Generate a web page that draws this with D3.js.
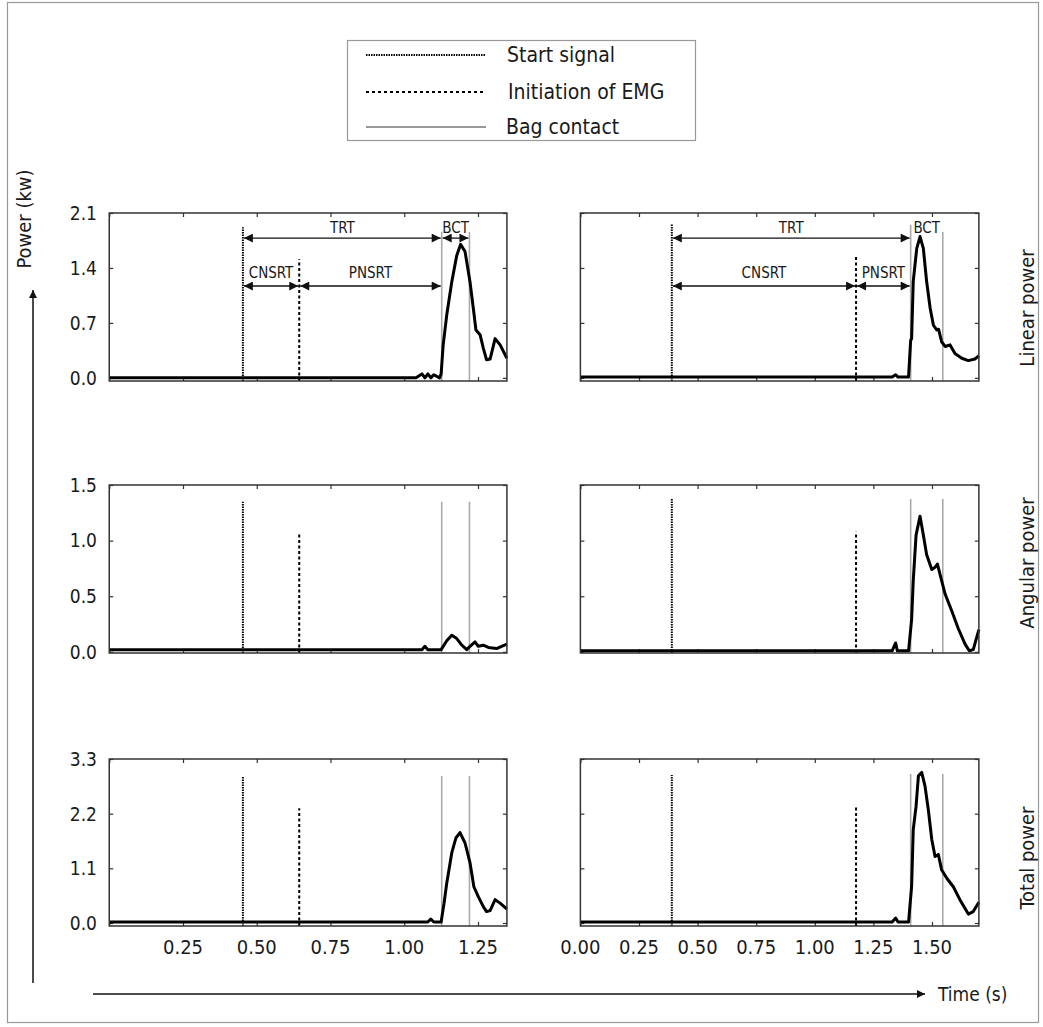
<!DOCTYPE html>
<html>
<head>
<meta charset="utf-8">
<script src="https://cdn.jsdelivr.net/npm/d3@7"></script>
<style>
  body { margin: 0; background: #fff; }
  svg text { font-family: "Liberation Sans Narrow", "DejaVu Sans Condensed", "DejaVu Sans", sans-serif; font-stretch: condensed; fill: #1a1a1a; }
</style>
</head>
<body>
<svg id="chart"></svg>
<script>
// ---- data ----
const rowLabels = ["Linear power", "Angular power", "Total power"];
const legendLabels = ["Start signal", "Initiation of EMG", "Bag contact"];

const xTickValues = [0, 0.25, 0.5, 0.75, 1.0, 1.25, 1.5];
const yTicksLinear = [0, 0.7, 1.4, 2.1];
const yTicksAngular = [0, 0.5, 1.0, 1.5];
const yTicksTotal = [0, 1.1, 2.2, 3.3];

// event times: start signal, initiation of EMG, bag contact (start, end)
const eventsLeft = [0.453, 0.644, 1.127, 1.221];
const eventsRight = [0.39, 1.176, 1.409, 1.546];

// heights (kW) the event lines reach in each panel
const eventTopLinearLeft = [1.92, 1.51, 1.86, 1.86];
const eventTopLinearRight = [1.96, 1.54, 1.95, 1.86];
const eventTopAngularLeft = [1.35, 1.07, 1.35, 1.35];
const eventTopAngularRight = [1.375, 1.08, 1.375, 1.375];
const eventTopTotalLeft = [2.96, 2.31, 2.96, 2.96];
const eventTopTotalRight = [2.98, 2.33, 3.0, 3.0];

// power curves
const linearLeftT = [0, 1.04, 1.06, 1.07, 1.08, 1.09, 1.10, 1.12, 1.125, 1.132, 1.144, 1.161, 1.178, 1.191, 1.206, 1.223, 1.234, 1.243, 1.257, 1.268, 1.279, 1.291, 1.308, 1.325, 1.348];
const linearLeftP = [0, 0, 0.05, 0, 0.05, 0, 0.04, 0, 0.05, 0.42, 0.80, 1.22, 1.56, 1.70, 1.61, 1.22, 0.89, 0.61, 0.55, 0.38, 0.23, 0.24, 0.50, 0.42, 0.25];

const linearRightT = [0, 1.33, 1.345, 1.355, 1.365, 1.40, 1.409, 1.413, 1.420, 1.435, 1.449, 1.463, 1.477, 1.492, 1.506, 1.520, 1.528, 1.541, 1.556, 1.577, 1.598, 1.627, 1.655, 1.683, 1.70];
const linearRightP = [0.01, 0.01, 0.04, 0.01, 0.01, 0.01, 0.48, 0.50, 1.23, 1.65, 1.80, 1.65, 1.23, 0.89, 0.67, 0.61, 0.62, 0.46, 0.40, 0.42, 0.31, 0.25, 0.22, 0.24, 0.28];

const angularLeftT = [0, 1.06, 1.07, 1.08, 1.125, 1.144, 1.161, 1.178, 1.195, 1.212, 1.223, 1.240, 1.251, 1.268, 1.285, 1.313, 1.330, 1.348];
const angularLeftP = [0.02, 0.02, 0.05, 0.02, 0.02, 0.10, 0.15, 0.12, 0.06, 0.02, 0.05, 0.09, 0.05, 0.06, 0.04, 0.03, 0.05, 0.07];

const angularRightT = [0, 1.33, 1.345, 1.352, 1.36, 1.40, 1.413, 1.420, 1.432, 1.449, 1.463, 1.477, 1.499, 1.513, 1.523, 1.534, 1.556, 1.584, 1.612, 1.641, 1.659, 1.676, 1.70];
const angularRightP = [0.01, 0.01, 0.08, 0.01, 0.01, 0.01, 0.29, 0.64, 1.05, 1.22, 1.05, 0.875, 0.74, 0.76, 0.79, 0.70, 0.52, 0.37, 0.21, 0.07, 0.01, 0.02, 0.20];

const totalLeftT = [0, 1.08, 1.09, 1.10, 1.125, 1.135, 1.144, 1.161, 1.175, 1.189, 1.206, 1.223, 1.236, 1.251, 1.268, 1.279, 1.291, 1.308, 1.325, 1.348];
const totalLeftP = [0.02, 0.02, 0.08, 0.02, 0.02, 0.40, 0.80, 1.41, 1.71, 1.82, 1.61, 1.21, 0.73, 0.53, 0.33, 0.23, 0.25, 0.47, 0.40, 0.28];

const totalRightT = [0, 1.33, 1.345, 1.355, 1.365, 1.40, 1.413, 1.420, 1.432, 1.442, 1.456, 1.470, 1.484, 1.499, 1.513, 1.527, 1.541, 1.563, 1.591, 1.619, 1.655, 1.676, 1.70];
const totalRightP = [0.02, 0.02, 0.10, 0.02, 0.02, 0.02, 0.73, 1.88, 2.35, 2.96, 3.03, 2.76, 2.29, 1.68, 1.34, 1.38, 1.07, 0.90, 0.73, 0.47, 0.18, 0.23, 0.42];

// reaction time intervals drawn in the linear power panels
const intervalsLeft = [
  { label: "TRT", from: 0.453, to: 1.127, level: 1.78 },
  { label: "BCT", from: 1.127, to: 1.221, level: 1.78 },
  { label: "CNSRT", from: 0.453, to: 0.644, level: 1.17 },
  { label: "PNSRT", from: 0.644, to: 1.127, level: 1.17 },
];
const intervalsRight = [
  { label: "TRT", from: 0.39, to: 1.409, level: 1.78 },
  { label: "BCT", from: 1.409, to: 1.546, level: 1.78, noArrow: true },
  { label: "CNSRT", from: 0.39, to: 1.176, level: 1.17 },
  { label: "PNSRT", from: 1.176, to: 1.409, level: 1.17 },
];

// ---- layout ----
const width = 1043;
const height = 1027;

const svg = d3.select("#chart").attr("width", width).attr("height", height);

const defs = svg.append("defs");
defs.append("marker")
  .attr("id", "head")
  .attr("viewBox", "0 0 10 10")
  .attr("refX", 10).attr("refY", 5)
  .attr("markerWidth", 14).attr("markerHeight", 9)
  .attr("markerUnits", "userSpaceOnUse")
  .attr("orient", "auto-start-reverse")
  .append("path").attr("d", "M0,0L10,5L0,10z").attr("fill", "#111");
defs.append("marker")
  .attr("id", "axhead")
  .attr("viewBox", "0 0 10 10")
  .attr("refX", 10).attr("refY", 5)
  .attr("markerWidth", 11).attr("markerHeight", 8)
  .attr("markerUnits", "userSpaceOnUse")
  .attr("orient", "auto")
  .append("path").attr("d", "M0,0L10,5L0,10z").attr("fill", "#111");

// outer frame
svg.append("rect")
  .attr("x", 7.5).attr("y", 2.5)
  .attr("width", 1031).attr("height", 1020)
  .attr("fill", "none").attr("stroke", "#999").attr("stroke-width", 1.2);

const columns = [
  { x0: 109.25, tmax: 1.348, events: eventsLeft },
  { x0: 580.4, tmax: 1.70, events: eventsRight },
];
const colScale = [295, 234.4]; // px per second

const rows = [
  { top: 213, bottom: 381, domain: [-0.04, 2.1], ticks: yTicksLinear, labelY: 308 },
  { top: 485, bottom: 653, domain: [-0.01, 1.5], ticks: yTicksAngular, labelY: 563 },
  { top: 759, bottom: 926, domain: [-0.06, 3.3], ticks: yTicksTotal, labelY: 858 },
];

const panels = [
  { row: 0, col: 0, t: linearLeftT, p: linearLeftP, tops: eventTopLinearLeft, intervals: intervalsLeft },
  { row: 0, col: 1, t: linearRightT, p: linearRightP, tops: eventTopLinearRight, intervals: intervalsRight },
  { row: 1, col: 0, t: angularLeftT, p: angularLeftP, tops: eventTopAngularLeft },
  { row: 1, col: 1, t: angularRightT, p: angularRightP, tops: eventTopAngularRight },
  { row: 2, col: 0, t: totalLeftT, p: totalLeftP, tops: eventTopTotalLeft },
  { row: 2, col: 1, t: totalRightT, p: totalRightP, tops: eventTopTotalRight },
];

const eventStyles = [
  { stroke: "#000", width: 2, dash: "1.5,1" },
  { stroke: "#000", width: 2, dash: "3,2.5" },
  { stroke: "#aaa", width: 1.6, dash: null },
  { stroke: "#aaa", width: 1.6, dash: null },
];

panels.forEach((pn) => {
  const col = columns[pn.col];
  const row = rows[pn.row];
  const x = d3.scaleLinear().domain([0, col.tmax]).range([col.x0, col.x0 + col.tmax * colScale[pn.col]]);
  const y = d3.scaleLinear().domain(row.domain).range([row.bottom, row.top]);
  const [xa, xb] = x.range();
  const g = svg.append("g");

  const xt = xTickValues.filter((v) => v <= col.tmax);

  // inner ticks on all four sides
  g.append("g").attr("transform", `translate(0,${row.bottom})`)
    .call(d3.axisTop(x).tickValues(xt).tickSize(4).tickFormat(""))
    .call((s) => s.select(".domain").remove());
  g.append("g").attr("transform", `translate(0,${row.top})`)
    .call(d3.axisBottom(x).tickValues(xt).tickSize(4).tickFormat(""))
    .call((s) => s.select(".domain").remove());
  g.append("g").attr("transform", `translate(${xa},0)`)
    .call(d3.axisRight(y).tickValues(row.ticks).tickSize(4).tickFormat(""))
    .call((s) => s.select(".domain").remove());
  g.append("g").attr("transform", `translate(${xb},0)`)
    .call(d3.axisLeft(y).tickValues(row.ticks).tickSize(4).tickFormat(""))
    .call((s) => s.select(".domain").remove());
  g.selectAll(".tick line").attr("stroke", "#333").attr("stroke-width", 1.2);

  // y labels only for the left column
  if (pn.col === 0) {
    g.selectAll(".ylab").data(row.ticks).join("text")
      .attr("x", 97).attr("y", (d) => y(d))
      .attr("dy", "0.36em")
      .attr("text-anchor", "end")
      .attr("font-size", 19)
      .text((d) => d3.format(".1f")(d));
  }

  // x labels on the bottom row
  if (pn.row === 2) {
    const labelled = pn.col === 0 ? xt.filter((v) => v > 0) : xt;
    g.selectAll(".xlab").data(labelled).join("text")
      .attr("x", (d) => x(d)).attr("y", row.bottom + 28)
      .attr("text-anchor", "middle")
      .attr("font-size", 20)
      .text((d) => d3.format(".2f")(d));
  }

  // event lines
  col.events.forEach((ev, i) => {
    const st = eventStyles[i];
    g.append("line")
      .attr("x1", x(ev)).attr("x2", x(ev))
      .attr("y1", y(row.domain[0])).attr("y2", y(pn.tops[i]))
      .attr("stroke", st.stroke).attr("stroke-width", st.width)
      .attr("stroke-dasharray", st.dash);
  });

  // power curve
  const series = pn.t.map((t, i) => [t, pn.p[i]]);
  g.append("path")
    .datum(series)
    .attr("fill", "none")
    .attr("stroke", "#000")
    .attr("stroke-width", 3)
    .attr("stroke-linejoin", "round")
    .attr("d", d3.line().x((d) => x(d[0])).y((d) => y(d[1])));

  // interval arrows
  (pn.intervals || []).forEach((iv) => {
    if (!iv.noArrow) {
      g.append("line")
        .attr("x1", x(iv.from) + 1).attr("x2", x(iv.to) - 1)
        .attr("y1", y(iv.level)).attr("y2", y(iv.level))
        .attr("stroke", "#111").attr("stroke-width", 1.3)
        .attr("marker-start", "url(#head)")
        .attr("marker-end", "url(#head)");
    }
    g.append("text")
      .attr("x", (x(iv.from) + x(iv.to)) / 2)
      .attr("y", y(iv.level) - (iv.level > 1.5 ? 5 : 8))
      .attr("text-anchor", "middle")
      .attr("font-size", 15)
      .text(iv.label);
  });

  // frame
  g.append("rect")
    .attr("x", xa).attr("y", row.top)
    .attr("width", xb - xa).attr("height", row.bottom - row.top)
    .attr("fill", "none").attr("stroke", "#333").attr("stroke-width", 1.5);
});

// row labels at right
rows.forEach((row, i) => {
  svg.append("text")
    .attr("transform", `translate(1027,${row.labelY}) rotate(-90)`)
    .attr("text-anchor", "middle")
    .attr("dy", "0.35em")
    .attr("font-size", 20)
    .text(rowLabels[i]);
});

// axis arrows
svg.append("line")
  .attr("x1", 33).attr("y1", 983).attr("x2", 33).attr("y2", 290)
  .attr("stroke", "#111").attr("stroke-width", 1.5)
  .attr("marker-end", "url(#axhead)");
svg.append("text")
  .attr("transform", "translate(24,219) rotate(-90)")
  .attr("text-anchor", "middle")
  .attr("dy", "0.35em")
  .attr("font-size", 20)
  .text("Power (kw)");

svg.append("line")
  .attr("x1", 93).attr("y1", 994).attr("x2", 925).attr("y2", 994)
  .attr("stroke", "#111").attr("stroke-width", 1.5)
  .attr("marker-end", "url(#axhead)");
svg.append("text")
  .attr("x", 938).attr("y", 994)
  .attr("dy", "0.35em")
  .attr("font-size", 19)
  .text("Time (s)");

// legend
const legend = svg.append("g");
legend.append("rect")
  .attr("x", 347.5).attr("y", 40.5)
  .attr("width", 348).attr("height", 100)
  .attr("fill", "#fff").attr("stroke", "#999").attr("stroke-width", 1.2);
const legendRowsY = [55, 92, 127];
const legendTextX = [507, 508, 506];
legendLabels.forEach((lab, i) => {
  const st = eventStyles[i];
  legend.append("line")
    .attr("x1", 366).attr("x2", 486)
    .attr("y1", legendRowsY[i]).attr("y2", legendRowsY[i])
    .attr("stroke", i === 2 ? "#999" : st.stroke)
    .attr("stroke-width", 1.8)
    .attr("stroke-dasharray", i === 0 ? "1.5,1" : i === 1 ? "3,3" : null);
  legend.append("text")
    .attr("x", legendTextX[i]).attr("y", legendRowsY[i] + 7)
    .attr("font-size", 21)
    .text(lab);
});
</script>
</body>
</html>
